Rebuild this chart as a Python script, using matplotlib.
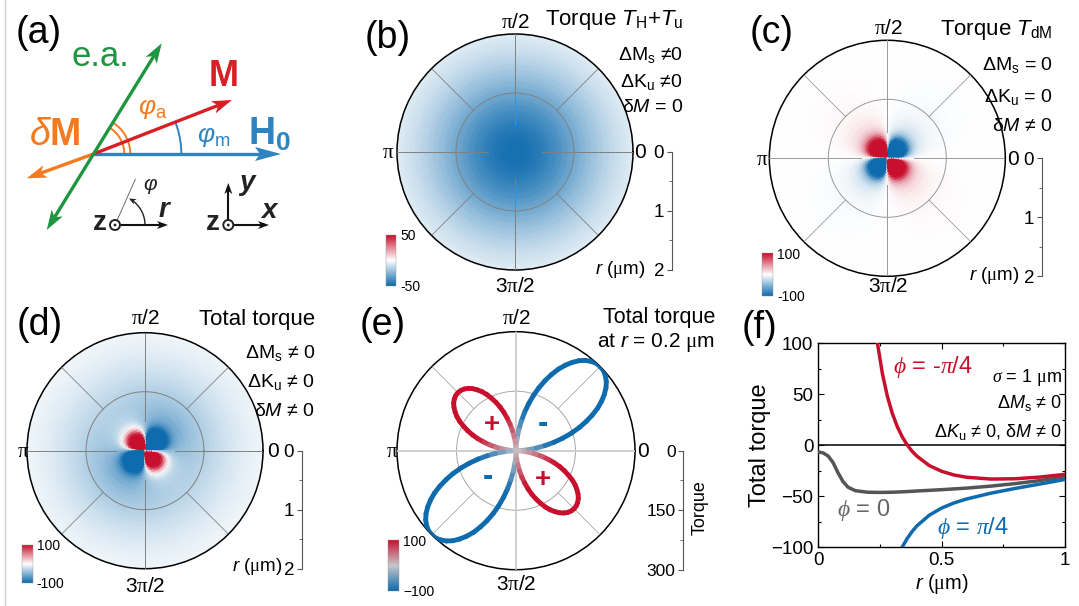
import numpy as np
import matplotlib
matplotlib.use("Agg")
import matplotlib.pyplot as plt
from matplotlib.colors import LinearSegmentedColormap, Normalize
from matplotlib.collections import LineCollection
from matplotlib.patches import Polygon, Circle
from matplotlib.colorbar import Colorbar

W, H = 1079, 606
plt.rcParams['font.family'] = ['Liberation Sans', 'DejaVu Sans']
plt.rcParams['mathtext.fontset'] = 'custom'
plt.rcParams['mathtext.rm'] = 'Liberation Sans'
plt.rcParams['mathtext.it'] = 'Liberation Sans:italic'
plt.rcParams['mathtext.bf'] = 'Liberation Sans:bold'
plt.rcParams['mathtext.sf'] = 'Liberation Serif'
plt.rcParams['mathtext.cal'] = 'Liberation Serif:italic'

# ---------------- data ----------------
# radial samples (um) used by the polar colour maps (b)-(d)
r_map = [0, 0.04, 0.08, 0.12, 0.16, 0.2, 0.25, 0.3, 0.35, 0.4, 0.45, 0.5, 0.55,
         0.6, 0.7, 0.8, 0.9, 1.0, 1.1, 1.2, 1.3, 1.4, 1.5, 1.6, 1.7, 1.8, 1.9, 2.0]
# (b) isotropic torque T_H + T_u
torque_HU = [-48.0, -48.0, -47.8, -47.7, -47.4, -47.0, -46.5, -45.9, -45.1, -44.3,
             -43.4, -42.3, -41.3, -40.1, -37.6, -34.8, -32.0, -29.1, -26.2, -23.4,
             -20.6, -18.0, -15.6, -13.3, -11.3, -9.5, -7.9, -6.5]
# (d) isotropic part of the total torque
torque_bg_total = [-6.5, -10.5, -27, -41, -45, -46, -46.2, -46, -45.5, -44.8, -44.2,
                   -43.5, -42.8, -42, -40, -37.5, -34.5, -31, -27.5, -24, -21, -18,
                   -15.5, -13, -11, -9, -7.5, -6.5]
# (c),(d) amplitude of the quadrupolar torque T_dM (pattern -sin 2phi)
torque_dM_amp = [0, 1500, 2000, 1500, 1000, 700, 400, 230, 140, 90, 55, 35, 24, 17,
                 10, 6.5, 4.5, 3.3, 2.5, 1.9, 1.5, 1.2, 1.0, 0.8, 0.6, 0.5, 0.4, 0.3]

# (e) total torque at r = 0.2 um, every 2.5 deg over one lobe
lobe_blue = [0, -13, -31, -52, -74, -98, -122, -146, -169, -191, -212, -232, -249,
             -264, -277, -287, -294, -299, -300, -299, -294, -287, -277, -264, -249,
             -232, -212, -191, -169, -146, -122, -98, -74, -52, -31, -13, 0]
lobe_red = [0, 9, 21, 36, 51, 68, 84, 101, 117, 132, 146, 160, 172, 182, 191, 198,
            203, 206, 207, 206, 203, 198, 191, 182, 172, 160, 146, 132, 117, 101, 84,
            68, 51, 36, 21, 9, 0]
torque_e = lobe_blue + lobe_red[1:] + lobe_blue[1:] + lobe_red[1:]
phi_e_deg = np.arange(len(torque_e)) * 2.5

# (f) total torque vs r
r_phi0 = [0, 0.02, 0.04, 0.06, 0.08, 0.1, 0.12, 0.15, 0.2, 0.25, 0.3, 0.35, 0.4,
          0.5, 0.6, 0.7, 0.8, 0.9, 1.0]
torque_phi0 = [-6.5, -7.5, -10.5, -17, -27, -35.5, -41, -44.5, -46, -46.2, -46,
               -45.5, -44.8, -43.5, -42, -40, -37.5, -34.5, -31]
r_pm = [0.2, 0.22, 0.24, 0.26, 0.28, 0.3, 0.32, 0.34, 0.36, 0.38, 0.4, 0.45, 0.5,
        0.55, 0.6, 0.7, 0.8, 0.9, 1.0]
torque_m45 = [199.4, 140.9, 99.7, 70.0, 48.0, 31.3, 18.4, 8.4, 0.5, -5.8, -10.7,
              -19.9, -25.5, -29.1, -31.3, -33.1, -32.8, -31.1, -28.5]
torque_p45 = [-291.4, -233.1, -192.1, -162.4, -140.2, -123.3, -110.2, -99.8, -91.5,
              -84.6, -78.9, -68.5, -61.5, -56.5, -52.7, -46.9, -42.2, -37.9, -33.5]

# ---------------- style ----------------
RED = '#c8102e'
BLUE = '#0d6bae'
cmap_map = LinearSegmentedColormap.from_list('rwb', [BLUE, '#ffffff', RED])
cmap_e = LinearSegmentedColormap.from_list('rgb', [BLUE, '#c6c6ca', RED])
FT = 16      # panel titles
FC = 14      # condition lines
FA = 15      # angle labels
FR = 13.5    # radial tick labels

fig = plt.figure(figsize=(W / 100, H / 100), dpi=100)


def box(x0, y0, w, h):
    return [x0 / W, 1 - (y0 + h) / H, w / W, h / H]


def polar_panel(cx, cy, R, rmax):
    ax = fig.add_axes(box(cx - R, cy - R, 2 * R, 2 * R), projection='polar')
    ax.set_ylim(0, rmax)
    ax.set_xticks([])
    ax.set_yticks([])
    ax.grid(False)
    ax.spines['polar'].set_linewidth(1.1)
    ax.spines['polar'].set_color('black')
    return ax


def polar_grid(ax, rmax, inner_start, col='#808080', lw=0.7, axcol=None, axlw=None):
    tt = np.linspace(0, 2 * np.pi, 361)
    ax.plot(tt, np.full_like(tt, rmax / 2), color=col, lw=lw, zorder=3)
    for k in range(8):
        a = k * np.pi / 4
        if k % 2 == 0:
            ax.plot([a, a], [inner_start, rmax], color=axcol or col,
                    lw=axlw or lw, zorder=3)
        else:
            ax.plot([a, a], [rmax / 2, rmax], color=col, lw=lw * 0.85, zorder=3)


def radial_axis(x, y0, y1, lim, major, labels, minor, fs=FR):
    a = fig.add_axes(box(x, y0, 0.001, y1 - y0))
    a.set_ylim(lim[1], lim[0])
    a.set_xlim(0, 1)
    for s in ['top', 'right', 'bottom']:
        a.spines[s].set_visible(False)
    a.spines['left'].set_color('#555555')
    a.spines['left'].set_linewidth(0.8)
    a.set_xticks([])
    a.set_yticks(major)
    a.set_yticklabels(labels)
    a.set_yticks(minor, minor=True)
    a.tick_params(axis='y', which='major', direction='out', length=3.5, width=0.8,
                  color='#555555', labelsize=fs, pad=2)
    a.tick_params(axis='y', which='minor', direction='out', length=2, width=0.6,
                  color='#555555')
    a.patch.set_visible(False)
    return a


def cbar(x0, y0, x1, y1, cmap, v, top, bot):
    cax = fig.add_axes(box(x0, y0, x1 - x0, y1 - y0))
    cb = Colorbar(cax, cmap=cmap, norm=Normalize(-v, v), ticks=[-v, v])
    cb.set_ticklabels([bot, top])
    cax.tick_params(length=0, labelsize=10, pad=3)
    cb.outline.set_linewidth(0.3)
    cb.outline.set_edgecolor('#999999')


theta = np.linspace(0, 2 * np.pi, 361)
TH, RR = np.meshgrid(theta, np.array(r_map))
pattern = -np.sin(2 * theta)[None, :]

# ---------------- (b) ----------------
axb = polar_panel(515, 152, 118, 2)
fb = np.array(torque_HU)[:, None] + 0 * pattern
axb.pcolormesh(TH, RR, fb, shading='gouraud', cmap=cmap_map, norm=Normalize(-50, 50))
polar_grid(axb, 2, 0.45)
radial_axis(671.7, 152, 270, (0, 2), [0, 1, 2], ['0', '1', '2'], [0.5, 1.5])
cbar(385.5, 235, 396.5, 285.5, cmap_map, 50, '50', '-50')

# ---------------- (c) ----------------
axc = polar_panel(887.3, 158.3, 118, 2)
fc = np.array(torque_dM_amp)[:, None] * pattern
axc.pcolormesh(TH, RR, fc, shading='gouraud', cmap=cmap_map, norm=Normalize(-100, 100))
polar_grid(axc, 2, 0.45, col='#999999')
radial_axis(1041.7, 158.3, 276.3, (0, 2), [0, 1, 2], ['0', '1', '2'], [0.5, 1.5])
cbar(762.3, 253.3, 773.3, 295.7, cmap_map, 100, '100', '-100')

# ---------------- (d) ----------------
axd = polar_panel(145, 450.7, 118, 2)
fd = np.array(torque_bg_total)[:, None] + np.array(torque_dM_amp)[:, None] * pattern
axd.pcolormesh(TH, RR, fd, shading='gouraud', cmap=cmap_map, norm=Normalize(-100, 100))
polar_grid(axd, 2, 0.5)
radial_axis(301.7, 450.7, 568.7, (0, 2), [0, 1, 2], ['0', '1', '2'], [0.5, 1.5])
cbar(21.7, 545, 32.7, 582.7, cmap_map, 100, '100', '-100')

# ---------------- (e) ----------------
axe = polar_panel(516, 450.7, 119, 300)
polar_grid(axe, 300, 0, col='#a8a8a8', lw=0.7, axcol='#cfcfcf', axlw=1.4)
th_e = np.deg2rad(phi_e_deg)
rad_e = np.abs(np.array(torque_e, dtype=float))
segs = [[(th_e[i], rad_e[i]), (th_e[i + 1], rad_e[i + 1])] for i in range(len(th_e) - 1)]
vals = [(torque_e[i] + torque_e[i + 1]) / 2 for i in range(len(th_e) - 1)]
lc = LineCollection(segs, cmap=cmap_e, norm=Normalize(-100, 100), linewidths=3.5,
                    capstyle='round', zorder=5)
lc.set_array(np.array(vals))
axe.add_collection(lc)
radial_axis(683.3, 450.7, 569.7, (0, 300), [0, 150, 300], ['0', '150', '300'],
            [75, 225], fs=12.5)
cbar(388.3, 540, 399.3, 590.7, cmap_e, 100, '100', '\u2212100')

# ---------------- (f) ----------------
axf = fig.add_axes(box(818.3, 343.3, 246.7, 204))
axf.set_xlim(0, 1)
axf.set_ylim(-100, 100)
axf.axhline(0, color='black', lw=1.1, zorder=1)
axf.plot(r_phi0, torque_phi0, color='#555555', lw=2.5, zorder=3)
axf.plot(r_pm, torque_p45, color=BLUE, lw=2.5, zorder=3)
axf.plot(r_pm, torque_m45, color=RED, lw=2.5, zorder=4)
axf.set_xticks([0, 0.5, 1])
axf.set_xticklabels(['0', '0.5', '1'])
axf.set_xticks([0.25, 0.75], minor=True)
axf.set_yticks([-100, -50, 0, 50, 100])
axf.set_yticklabels(['\u2212100', '\u221250', '0', '50', '100'])
axf.set_yticks([-75, -25, 25, 75], minor=True)
axf.tick_params(which='both', direction='in', top=True, right=True, labelsize=13.5,
                width=0.8)
axf.tick_params(which='major', length=4)
axf.tick_params(which='minor', length=2.5)
for s in axf.spines.values():
    s.set_linewidth(1.0)
axf.set_xlabel(r'$r$ ($\mathsf{\mu}$m)', fontsize=14.5, labelpad=2)
axf.set_ylabel('Total torque', fontsize=17, labelpad=0)

# ---------------- overlay (texts + panel a) ----------------
ov = fig.add_axes([0, 0, 1, 1], zorder=20)
ov.set_xlim(0, W)
ov.set_ylim(H, 0)
ov.axis('off')
ov.plot([5, 5], [0, H], color='#d0d0d0', lw=1.0)


def T(x, y, s, fs=FC, ha='center', va='center', **kw):
    ov.text(x, y, s, fontsize=fs, ha=ha, va=va, **kw)


# panel labels
for lab, (x, y) in {'(a)': (39, 33), '(b)': (388, 38), '(c)': (772, 33),
                    '(d)': (40, 325), '(e)': (383, 325), '(f)': (760, 328)}.items():
    T(x, y, lab, fs=27)

PI = r'$\mathsf{\pi}$'
# angle labels
for (cx, cy, yt, yb, xl, xr) in [(515, 152, 23, 287, 388, 640),
                                  (888.3, 158.3, 28.3, 287, 761.7, 1013),
                                  (145, 450.7, 318.3, 586.7, 22.7, 272.5),
                                  (516, 450.7, 318.3, 584, 391.7, 643.3)]:
    T(cx, yt, PI + '/2', fs=FA)
    T(cx, yb, '3' + PI + '/2', fs=FA)
    T(xl, cy + 1, PI, fs=FA)
    T(xr, cy + 1, '0', fs=FA)

RL = r'$r$ ($\mathsf{\mu}$m)'
# (b) texts
T(683, 20, r'Torque $T_\mathrm{H}$+$T_\mathrm{u}$', fs=FT, ha='right')
T(683, 55, r'$\Delta\mathrm{M}_\mathrm{s}$ ≠0', ha='right')
T(683, 82, r'$\Delta\mathrm{K}_\mathrm{u}$ ≠0', ha='right')
T(683, 108, r'$\mathrm{\delta}M$ = 0', ha='right')
T(645, 270, RL, fs=13.5, ha='right')
# (c) texts
T(1053, 30, r'Torque $T_\mathrm{dM}$', fs=FT, ha='right')
T(1053, 65, r'$\Delta\mathrm{M}_\mathrm{s}$ = 0', ha='right')
T(1053, 96.7, r'$\Delta\mathrm{K}_\mathrm{u}$ = 0', ha='right')
T(1053, 126.7, r'$\mathrm{\delta}M$ ≠ 0', ha='right')
T(1019, 276, RL, fs=13.5, ha='right')
# (d) texts
T(315, 320, 'Total torque', fs=FT, ha='right')
T(315, 353.3, r'$\Delta\mathrm{M}_\mathrm{s}$ ≠ 0', ha='right')
T(315, 381.7, r'$\Delta\mathrm{K}_\mathrm{u}$ ≠ 0', ha='right')
T(315, 411.7, r'$\mathrm{\delta}M$ ≠ 0', ha='right')
T(282, 566.7, RL, fs=13.5, ha='right')
# (e) texts
T(715, 318, 'Total torque', fs=15.5, ha='right')
T(715, 343, r'at $r$ = 0.2 $\mathsf{\mu}$m', fs=15, ha='right')
T(700, 508, 'Torque', fs=13, rotation=90)
T(491.7, 425, '+', fs=20, color=RED, fontweight='bold')
T(543.3, 424, '-', fs=22, color=BLUE, fontweight='bold')
T(488, 476.7, '-', fs=22, color=BLUE, fontweight='bold')
T(543, 480, '+', fs=20, color=RED, fontweight='bold')
# (f) texts
T(893, 367, r'$\mathcal{\phi}$ = -$\mathcal{\pi}$/4', fs=17, ha='left', color=RED)
T(1062, 378, r'$\mathcal{\sigma}$ = 1 $\mathsf{\mu}$m', fs=13, ha='right')
T(1062, 403, r'$\Delta M_\mathrm{s}$ ≠ 0', fs=13, ha='right')
T(1062, 432, r'$\Delta K_\mathrm{u}$ ≠ 0, $\mathrm{\delta}M$ ≠ 0', fs=13, ha='right')
T(837, 510, r'$\mathcal{\phi}$ = 0', fs=17, ha='left', color='#666666')
T(937, 528, r'$\mathcal{\phi}$ = $\mathcal{\pi}$/4', fs=17, ha='left', color=BLUE)

# ---------------- panel (a) schematic ----------------
GREEN = '#1e9641'
ARED = '#d71f26'
ABLUE = '#2f84c0'
ORANGE = '#f47a20'


def head(x1, y1, ux, uy, color, hl, hw, notch):
    px, py = -uy, ux
    bx, by = x1 - ux * hl, y1 - uy * hl
    nx, ny = x1 - ux * (hl - notch), y1 - uy * (hl - notch)
    ov.add_patch(Polygon([[x1, y1], [bx + px * hw, by + py * hw], [nx, ny],
                          [bx - px * hw, by - py * hw]], closed=True,
                         facecolor=color, edgecolor='none', zorder=6))
    return nx, ny


def arrow(x0, y0, x1, y1, color, lw=2.4, hl=20, hw=6.5, notch=5, double=False, z=5):
    dx, dy = x1 - x0, y1 - y0
    L = np.hypot(dx, dy)
    ux, uy = dx / L, dy / L
    ex, ey = head(x1, y1, ux, uy, color, hl, hw, notch)
    sx, sy = x0, y0
    if double:
        sx, sy = head(x0, y0, -ux, -uy, color, hl, hw, notch)
    ov.plot([sx, ex], [sy, ey], color=color, lw=lw, solid_capstyle='butt', zorder=z)


ox, oy = 93.3, 154
arrow(ox, oy, 281, oy, ABLUE, hl=26, hw=7)
arrow(ox, oy, 232, 100, ARED)
arrow(ox, oy, 26.7, 178.3, ORANGE)
arrow(46.7, 230, 161.7, 43.3, GREEN, double=True)


def arc(cx, cy, r, a0, a1, color, lw):
    a = np.deg2rad(np.linspace(a0, a1, 60))
    ov.plot(cx + r * np.cos(a), cy - r * np.sin(a), color=color, lw=lw, zorder=4)


arc(ox, oy, 88, 0, 21.3, ABLUE, 1.4)
arc(ox, oy, 31, 0, 58.3, ORANGE, 1.4)
arc(ox, oy, 37, 0, 58.3, ORANGE, 1.4)

T(100, 57, 'e.a.', fs=25, color=GREEN)
T(224, 77, 'M', fs=26, color=ARED, fontweight='bold')
T(269, 134, r'$\mathbf{H}_\mathbf{0}$', fs=27, color=ABLUE)
T(55, 135, r'$\delta\mathbf{M}$', fs=27, color=ORANGE)
T(153, 109, r'$\varphi_\mathrm{a}$', fs=19, color=ORANGE)
T(214, 137, r'$\varphi_\mathrm{m}$', fs=19, color=ABLUE)

# coordinate icons
for (cxc, cyc) in [(115, 225), (228.3, 225)]:
    ov.add_patch(Circle((cxc, cyc), 5, facecolor='white', edgecolor='#222222',
                        lw=1.4, zorder=6))
    ov.add_patch(Circle((cxc, cyc), 1.4, facecolor='#222222', edgecolor='none',
                        zorder=7))
arrow(120.5, 225, 168, 225, '#111111', lw=1.5, hl=11, hw=4, notch=3)
arrow(233.8, 225, 269, 225, '#111111', lw=1.5, hl=11, hw=4, notch=3)
arrow(228.3, 219.5, 228.3, 183, '#111111', lw=1.5, hl=11, hw=4, notch=3)
ov.plot([115, 135.3], [225, 179.3], color='#555555', lw=0.6, zorder=5)
aa = np.deg2rad(np.linspace(3, 58, 40))
ov.plot(115 + 30 * np.cos(aa), 225 - 30 * np.sin(aa), color='#222222', lw=1.0, zorder=5)
ae = np.deg2rad(62)
head(115 + 30 * np.cos(ae), 225 - 30 * np.sin(ae), -np.sin(ae), -np.cos(ae), '#222222',
     7, 3, 2)
T(100, 223, 'z', fs=20, fontweight='bold', color='#222222')
T(213, 223, 'z', fs=20, fontweight='bold', color='#222222')
T(164, 210, 'r', fs=20, fontweight='bold', style='italic', color='#222222')
T(269, 211, 'x', fs=20, fontweight='bold', style='italic', color='#222222')
T(247, 183, 'y', fs=20, fontweight='bold', style='italic', color='#222222')
T(150, 186, r'$\varphi$', fs=15, color='#222222')

fig.savefig('out.png', dpi=100)
